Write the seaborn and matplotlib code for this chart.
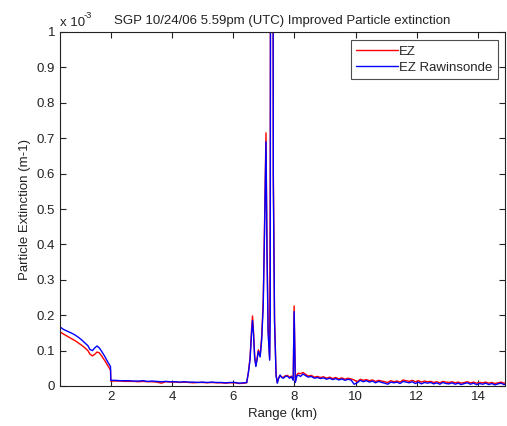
import numpy as np
import pandas as pd
import matplotlib
matplotlib.use('Agg')
import matplotlib.pyplot as plt
import seaborn as sns

sns.set_style('ticks')
plt.rcParams['font.family'] = ['Liberation Sans', 'DejaVu Sans']

# range (km)
range_km = [
    0.34, 0.45, 0.55, 0.65, 0.75, 0.85, 0.95, 1.05, 1.15, 1.25,
    1.32, 1.40, 1.48, 1.55, 1.62, 1.70, 1.80, 1.90, 1.99,
    2.00, 2.15, 2.30, 2.45, 2.60, 2.75, 2.90, 3.05, 3.20, 3.35,
    3.50, 3.65, 3.80, 3.95, 4.10, 4.25, 4.40, 4.55, 4.70, 4.85,
    5.00, 5.15, 5.30, 5.45, 5.60, 5.75, 5.90, 6.05, 6.20, 6.35, 6.44,
    6.50, 6.55, 6.60, 6.63, 6.66, 6.70, 6.74, 6.78, 6.82, 6.88,
    6.93, 6.98, 7.02, 7.07, 7.10, 7.14, 7.19, 7.21, 7.22, 7.26,
    7.30, 7.31, 7.35, 7.40, 7.44, 7.48, 7.53, 7.58, 7.64, 7.70,
    7.77, 7.84, 7.90, 7.96, 7.99, 8.03, 8.08, 8.12, 8.20, 8.28,
    8.35, 8.45, 8.55, 8.65, 8.75, 8.85, 8.95, 9.05, 9.15, 9.25,
    9.35, 9.45, 9.55, 9.65, 9.75, 9.85, 9.95, 10.05, 10.15, 10.25,
    10.35, 10.45, 10.55, 10.65, 10.75, 10.85, 10.95, 11.05, 11.15, 11.25,
    11.35, 11.45, 11.55, 11.65, 11.75, 11.85, 11.95, 12.05, 12.15, 12.25,
    12.35, 12.45, 12.55, 12.65, 12.75, 12.85, 12.95, 13.05, 13.15, 13.25,
    13.35, 13.45, 13.55, 13.65, 13.75, 13.85, 13.95, 14.05, 14.15, 14.25,
    14.35, 14.45, 14.55, 14.65, 14.75, 14.85, 14.95,
]

# particle extinction, in units of 1e-3 m-1
ez = [
    0.153, 0.147, 0.142, 0.137, 0.132, 0.127, 0.121, 0.115, 0.108, 0.100,
    0.090, 0.085, 0.090, 0.096, 0.094, 0.085, 0.072, 0.058, 0.045,
    0.014, 0.014, 0.014, 0.013, 0.013, 0.013, 0.012, 0.013, 0.012, 0.012,
    0.011, 0.008, 0.012, 0.011, 0.011, 0.010, 0.011, 0.010, 0.009, 0.010,
    0.010, 0.009, 0.010, 0.009, 0.009, 0.008, 0.009, 0.009, 0.007, 0.008, 0.009,
    0.042, 0.080, 0.160, 0.198, 0.158, 0.085, 0.058, 0.078, 0.102, 0.086,
    0.140, 0.240, 0.440, 0.715, 0.420, 0.160, 0.078, 0.620, 1.400, 1.600,
    1.400, 0.600, 0.190, 0.032, 0.010, 0.022, 0.030, 0.026, 0.024, 0.029,
    0.030, 0.025, 0.028, 0.020, 0.226, 0.014, 0.032, 0.036, 0.035, 0.038,
    0.034, 0.028, 0.030, 0.025, 0.027, 0.024, 0.026, 0.022, 0.025, 0.021,
    0.024, 0.020, 0.023, 0.019, 0.022, 0.020, 0.017, 0.012, 0.019, 0.016,
    0.018, 0.015, 0.017, 0.013, 0.016, 0.014, 0.012, 0.010, 0.015, 0.012,
    0.014, 0.011, 0.017, 0.015, 0.013, 0.016, 0.012, 0.015, 0.011, 0.014,
    0.012, 0.013, 0.010, 0.012, 0.009, 0.013, 0.011, 0.010, 0.012, 0.009,
    0.011, 0.008, 0.010, 0.012, 0.009, 0.011, 0.008, 0.010, 0.009, 0.011,
    0.008, 0.010, 0.007, 0.009, 0.011, 0.008, 0.010,
]

ez_rawinsonde = [
    0.167, 0.160, 0.156, 0.152, 0.148, 0.143, 0.137, 0.130, 0.122, 0.114,
    0.103, 0.100, 0.108, 0.113, 0.108, 0.098, 0.084, 0.068, 0.055,
    0.016, 0.016, 0.015, 0.015, 0.015, 0.014, 0.014, 0.015, 0.013, 0.014,
    0.013, 0.012, 0.013, 0.012, 0.012, 0.011, 0.012, 0.011, 0.011, 0.010,
    0.011, 0.010, 0.011, 0.010, 0.010, 0.009, 0.010, 0.010, 0.008, 0.009, 0.010,
    0.040, 0.075, 0.150, 0.185, 0.150, 0.080, 0.055, 0.075, 0.098, 0.082,
    0.130, 0.225, 0.420, 0.690, 0.400, 0.150, 0.073, 0.200, 1.400, 1.600,
    1.400, 0.580, 0.180, 0.030, 0.008, 0.020, 0.031, 0.024, 0.022, 0.027,
    0.028, 0.022, 0.026, 0.016, 0.210, 0.010, 0.028, 0.031, 0.027, 0.034,
    0.030, 0.025, 0.027, 0.022, 0.024, 0.021, 0.023, 0.019, 0.022, 0.018,
    0.021, 0.017, 0.020, 0.016, 0.019, 0.017, 0.005, 0.009, 0.016, 0.012,
    0.015, 0.011, 0.014, 0.009, 0.013, 0.010, 0.008, 0.005, 0.011, 0.009,
    0.011, 0.007, 0.013, 0.011, 0.009, 0.012, 0.007, 0.011, 0.006, 0.010,
    0.008, 0.010, 0.006, 0.009, 0.005, 0.010, 0.007, 0.006, 0.009, 0.005,
    0.008, 0.004, 0.007, 0.009, 0.005, 0.008, 0.004, 0.007, 0.005, 0.008,
    0.004, 0.007, 0.003, 0.006, 0.008, 0.004, 0.007,
]

series_names = ['EZ', 'EZ Rawinsonde']
series_colors = {'EZ': '#ff0000', 'EZ Rawinsonde': '#0000ff'}
y_ticks = [0, 0.1, 0.2, 0.3, 0.4, 0.5, 0.6, 0.7, 0.8, 0.9, 1]
y_tick_labels = ['0', '0.1', '0.2', '0.3', '0.4', '0.5', '0.6', '0.7', '0.8', '0.9', '1']
x_ticks = [2, 4, 6, 8, 10, 12, 14]


def build_frame():
    frames = []
    for name, vals in zip(series_names, [ez, ez_rawinsonde]):
        frames.append(pd.DataFrame({'range_km': range_km, 'ext': vals,
                                    'series': name}))
    return pd.concat(frames, ignore_index=True)


def main():
    df = build_frame()
    fs = 9.5
    ink = '#222222'
    fig = plt.figure(figsize=(5.07, 4.26), dpi=100)
    ax = fig.add_axes([60 / 507, 40 / 426, 445 / 507, 354 / 426])
    sns.lineplot(data=df, x='range_km', y='ext', hue='series',
                 palette=series_colors, estimator=None, sort=False,
                 linewidth=1, ax=ax)

    ax.set_xlim(0.34, 14.88)
    ax.set_ylim(0, 1)
    ax.set_xticks(x_ticks)
    ax.set_xticklabels([str(t) for t in x_ticks])
    ax.set_yticks(y_ticks)
    ax.set_yticklabels(y_tick_labels)
    ax.tick_params(direction='in', top=True, right=True, length=4,
                   width=0.8, labelsize=fs, colors=ink)
    for sp in ax.spines.values():
        sp.set_color(ink)
        sp.set_linewidth(0.8)

    ax.set_xlabel('Range (km)', fontsize=fs, color=ink)
    ax.set_ylabel('Particle Extinction (m-1)', fontsize=fs, color=ink)
    ax.set_title('SGP 10/24/06 5.59pm (UTC) Improved Particle extinction',
                 fontsize=fs, color=ink, pad=6)
    # MATLAB-style exponent above the y axis
    fig.text(60 / 507, 1 - 26 / 426, 'x 10', fontsize=fs, color=ink,
             ha='left', va='baseline')
    fig.text(84 / 507, 1 - 18 / 426, '-3', fontsize=fs * 0.7, color=ink,
             ha='left', va='baseline')

    leg = ax.legend(loc='upper right', bbox_to_anchor=(498 / 507, 1 - 40 / 426),
                    bbox_transform=fig.transFigure, fontsize=fs,
                    frameon=True, fancybox=False, edgecolor=ink,
                    handlelength=3.2, borderaxespad=0, borderpad=0.4,
                    labelspacing=0.3, handletextpad=0.1)
    leg.get_frame().set_linewidth(0.8)

    fig.savefig('out.png', dpi=100)


if __name__ == '__main__':
    main()
